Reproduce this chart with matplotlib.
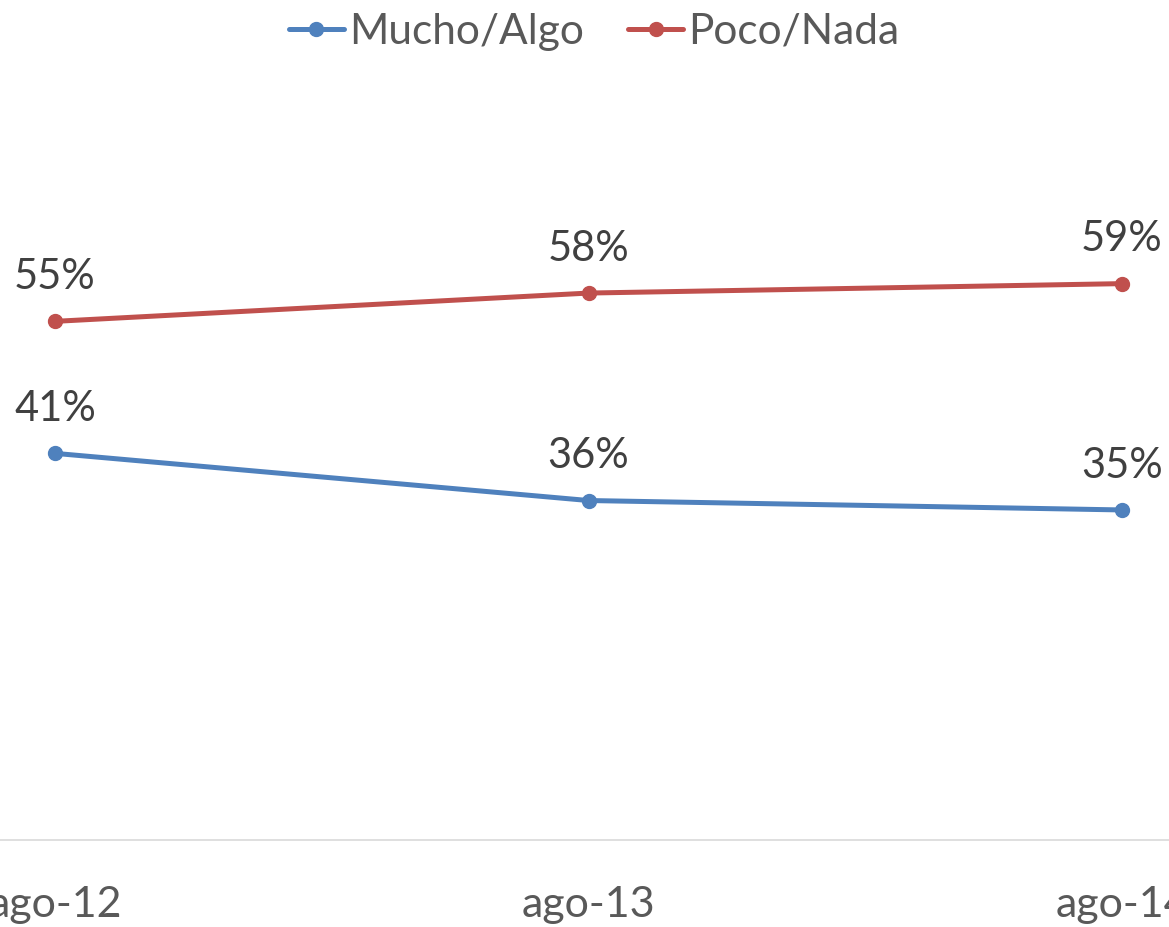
"""Lineas Mucho/Algo vs Poco/Nada (ago-12 .. ago-14)."""
import matplotlib
matplotlib.use("Agg")
import matplotlib.pyplot as plt
from matplotlib.ticker import FixedLocator

# ================================================
# DATA
# ================================================
fechas = ["ago-12", "ago-13", "ago-14"]
mucho_algo = [0.41, 0.36, 0.35]
poco_nada = [0.55, 0.58, 0.59]
series_namen = ["Mucho/Algo", "Poco/Nada"]

BLAUW = "#4F81BD"
ROOD = "#C0504D"
GRIJS_TEKST = "#595959"
LABEL_TEKST = "#404040"

plt.rcParams['font.family'] = ['Lato', 'DejaVu Sans']

fig = plt.figure(figsize=(11.69, 9.27), dpi=100)
# as loopt buiten de figuur door (zoals in de uitsnede van het origineel)
ax = fig.add_axes([0.0, 87 / 927, 1.0, (840 - 85.6) / 927])

x = list(range(len(fechas)))
for waarden, kleur, naam in [(mucho_algo, BLAUW, series_namen[0]), (poco_nada, ROOD, series_namen[1])]:
    ax.plot(x, waarden, color=kleur, lw=3.6, marker='o', markersize=10,
            solid_capstyle='round', label=naam, clip_on=False)
    for xi, v in zip(x, waarden):
        ax.annotate(f"{round(v * 100)}%", (xi, v), xytext=(0, 32), textcoords='offset points',
                    ha='center', va='center', fontsize=30, color=LABEL_TEKST,
                    annotation_clip=False)

ax.set_xlim(-55 / 533.5, (1169 - 55) / 533.5)
ax.set_ylim(0, 0.8)
ax.xaxis.set_major_locator(FixedLocator(x))
ax.set_xticklabels(fechas)
ax.tick_params(axis='x', length=0, pad=33, labelsize=31, labelcolor=GRIJS_TEKST)
ax.set_yticks([])
for kant in ['top', 'left', 'right']:
    ax.spines[kant].set_visible(False)
ax.spines['bottom'].set_color('#D9D9D9')
ax.spines['bottom'].set_linewidth(1.2)

fig.legend(loc='center', bbox_to_anchor=(594 / 1169, 1 - 32 / 927), ncol=2, frameon=False,
           fontsize=30.5, labelcolor=GRIJS_TEKST, handlelength=1.3, handletextpad=0.12,
           columnspacing=1.05, borderaxespad=0)

fig.savefig("out.png", dpi=100)
